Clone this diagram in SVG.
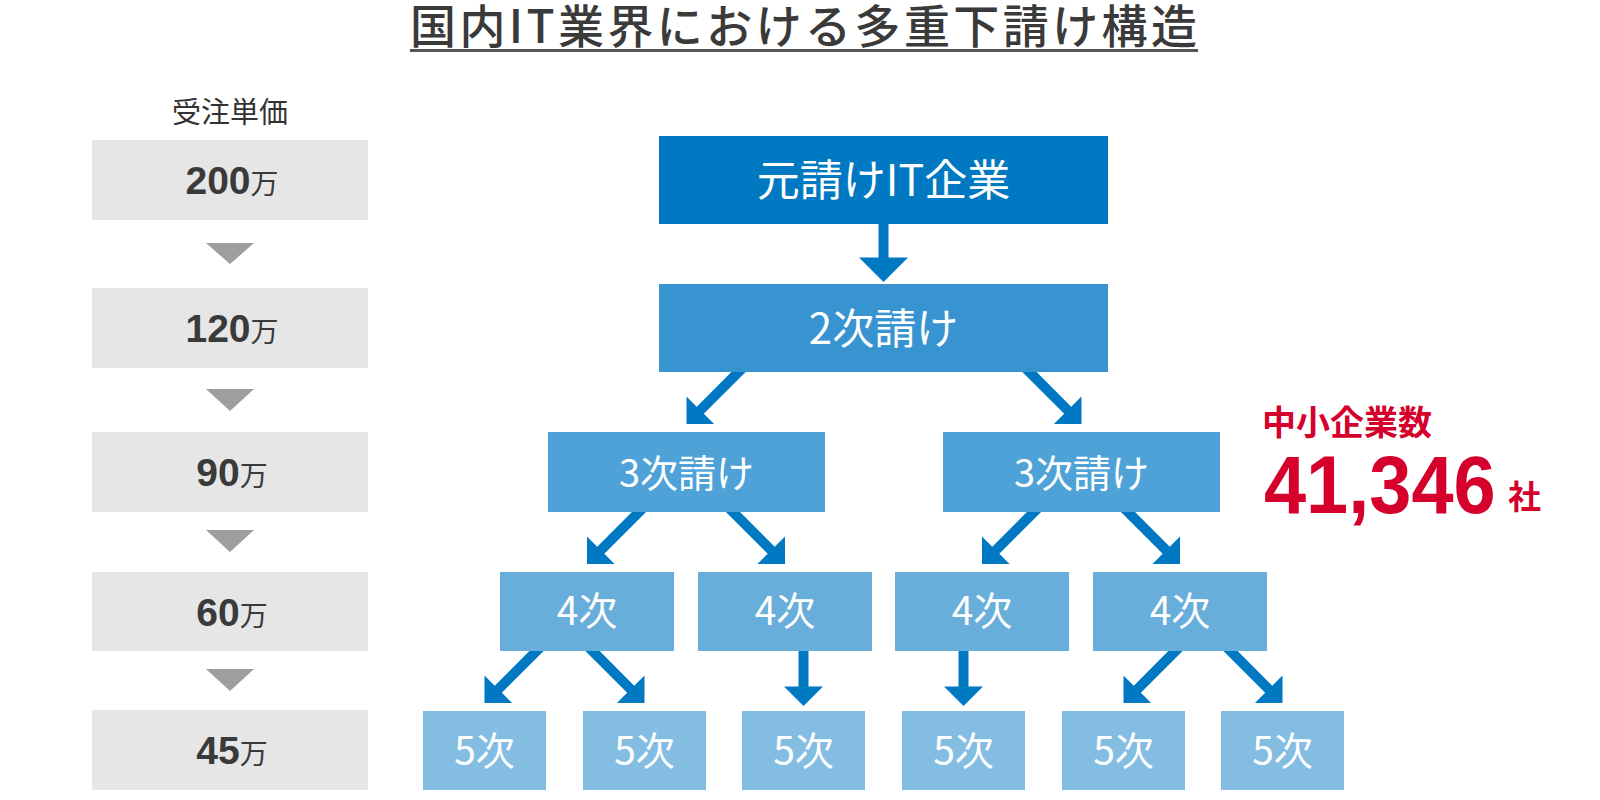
<svg xmlns="http://www.w3.org/2000/svg" width="1600" height="800" viewBox="0 0 1600 800">
<style>
  .cjk { font-family: "Noto Sans CJK JP", "Noto Sans", sans-serif; }
  .num { font-family: "Liberation Sans", Arial, sans-serif; font-weight: bold; }
  .price { fill: #e6e6e6; }
  .tri { fill: #9e9e9e; }
  .lbl { fill: #3a3a3a; }
  .wt { fill: #ffffff; font-family: "Noto Sans CJK JP", "Noto Sans", sans-serif; text-anchor: middle; }
  .arrow { fill: #0079c2; }
  .red { fill: #d5002b; }
  .l1 { fill: #0079c2; }
  .l2 { fill: #3894d0; }
  .l3 { fill: #4fa2d8; }
  .l4 { fill: #68aedb; }
  .l5 { fill: #83bde2; }
</style>
<defs>
  <path id="diag" d="M0,0 L-19.5,-19.5 L-5,-19.5 L-5,-85 L5,-85 L5,-19.5 L19.5,-19.5 Z"/>
  <path id="vert" d="M0,0 L-19.5,-19.5 L-5,-19.5 L-5,-60 L5,-60 L5,-19.5 L19.5,-19.5 Z"/>
  <path id="big" d="M0,0 L-24.5,-24.5 L-5,-24.5 L-5,-62 L5,-62 L5,-24.5 L24.5,-24.5 Z"/>
</defs>
<rect width="1600" height="800" fill="#ffffff"/>

<g id="title">
  <text class="cjk lbl" x="410" y="43" font-size="46" font-weight="500" textLength="787" lengthAdjust="spacing">国内IT業界における多重下請け構造</text>
  <rect x="410" y="49" width="788" height="3" fill="#555555"/>
</g>

<g id="price-column">
  <text class="cjk" x="230" y="123" font-size="29" fill="#333333" text-anchor="middle">受注単価</text>
  <g id="price-200">
    <rect class="price" x="92" y="140" width="276" height="80"/>
    <text class="lbl" x="232" y="194" text-anchor="middle"><tspan class="num" font-size="39">200</tspan><tspan class="cjk" font-size="28">万</tspan></text>
  </g>
  <polygon class="tri" points="206,243 254,243 230,264"/>
  <g id="price-120">
    <rect class="price" x="92" y="288" width="276" height="80"/>
    <text class="lbl" x="232" y="342" text-anchor="middle"><tspan class="num" font-size="39">120</tspan><tspan class="cjk" font-size="28">万</tspan></text>
  </g>
  <polygon class="tri" points="206,389 254,389 230,411"/>
  <g id="price-90">
    <rect class="price" x="92" y="432" width="276" height="80"/>
    <text class="lbl" x="232" y="486" text-anchor="middle"><tspan class="num" font-size="39">90</tspan><tspan class="cjk" font-size="28">万</tspan></text>
  </g>
  <polygon class="tri" points="206,530 254,530 230,552"/>
  <g id="price-60">
    <rect class="price" x="92" y="572" width="276" height="79"/>
    <text class="lbl" x="232" y="626" text-anchor="middle"><tspan class="num" font-size="39">60</tspan><tspan class="cjk" font-size="28">万</tspan></text>
  </g>
  <polygon class="tri" points="206,669 254,669 230,691"/>
  <g id="price-45">
    <rect class="price" x="92" y="710" width="276" height="80"/>
    <text class="lbl" x="232" y="764" text-anchor="middle"><tspan class="num" font-size="39">45</tspan><tspan class="cjk" font-size="28">万</tspan></text>
  </g>
</g>

<g id="connectors" class="arrow">
  <use href="#big" transform="translate(883.5,282)"/>
  <use href="#diag" transform="translate(686.5,424) rotate(45)"/>
  <use href="#diag" transform="translate(1081.5,424) rotate(-45)"/>
  <use href="#diag" transform="translate(587,564) rotate(45)"/>
  <use href="#diag" transform="translate(785,564) rotate(-45)"/>
  <use href="#diag" transform="translate(982,564) rotate(45)"/>
  <use href="#diag" transform="translate(1180,564) rotate(-45)"/>
  <use href="#diag" transform="translate(484.5,703) rotate(45)"/>
  <use href="#diag" transform="translate(644.5,703) rotate(-45)"/>
  <use href="#vert" transform="translate(803.5,706)"/>
  <use href="#vert" transform="translate(963.5,706)"/>
  <use href="#diag" transform="translate(1123.5,703) rotate(45)"/>
  <use href="#diag" transform="translate(1282.5,703) rotate(-45)"/>
</g>

<g id="node-prime">
  <rect class="l1" x="659" y="136" width="449" height="88"/>
  <text class="wt" x="883.5" y="196" font-size="43">元請けIT企業</text>
</g>
<g id="node-2nd">
  <rect class="l2" x="659" y="284" width="449" height="88"/>
  <text class="wt" x="883.5" y="344" font-size="42">2次請け</text>
</g>
<g id="node-3rd-a">
  <rect class="l3" x="548" y="432" width="277" height="80"/>
  <text class="wt" x="686.5" y="487" font-size="38">3次請け</text>
</g>
<g id="node-3rd-b">
  <rect class="l3" x="943" y="432" width="277" height="80"/>
  <text class="wt" x="1081.5" y="487" font-size="38">3次請け</text>
</g>
<g id="node-4th-a">
  <rect class="l4" x="500" y="572" width="174" height="79"/>
  <text class="wt" x="587" y="625" font-size="39">4次</text>
</g>
<g id="node-4th-b">
  <rect class="l4" x="698" y="572" width="174" height="79"/>
  <text class="wt" x="785" y="625" font-size="39">4次</text>
</g>
<g id="node-4th-c">
  <rect class="l4" x="895" y="572" width="174" height="79"/>
  <text class="wt" x="982" y="625" font-size="39">4次</text>
</g>
<g id="node-4th-d">
  <rect class="l4" x="1093" y="572" width="174" height="79"/>
  <text class="wt" x="1180" y="625" font-size="39">4次</text>
</g>
<g id="node-5th-a">
  <rect class="l5" x="423" y="711" width="123" height="79"/>
  <text class="wt" x="484.5" y="765" font-size="39">5次</text>
</g>
<g id="node-5th-b">
  <rect class="l5" x="583" y="711" width="123" height="79"/>
  <text class="wt" x="644.5" y="765" font-size="39">5次</text>
</g>
<g id="node-5th-c">
  <rect class="l5" x="742" y="711" width="123" height="79"/>
  <text class="wt" x="803.5" y="765" font-size="39">5次</text>
</g>
<g id="node-5th-d">
  <rect class="l5" x="902" y="711" width="123" height="79"/>
  <text class="wt" x="963.5" y="765" font-size="39">5次</text>
</g>
<g id="node-5th-e">
  <rect class="l5" x="1062" y="711" width="123" height="79"/>
  <text class="wt" x="1123.5" y="765" font-size="39">5次</text>
</g>
<g id="node-5th-f">
  <rect class="l5" x="1221" y="711" width="123" height="79"/>
  <text class="wt" x="1282.5" y="765" font-size="39">5次</text>
</g>

<g id="sme-count">
  <text class="cjk red" x="1262" y="435" font-size="34" font-weight="bold">中小企業数</text>
  <text class="num red" transform="translate(1264,513) scale(0.935,1)" x="0" y="0" font-size="81">41,346</text>
  <text class="cjk red" x="1508" y="509" font-size="33" font-weight="bold">社</text>
</g>
</svg>
